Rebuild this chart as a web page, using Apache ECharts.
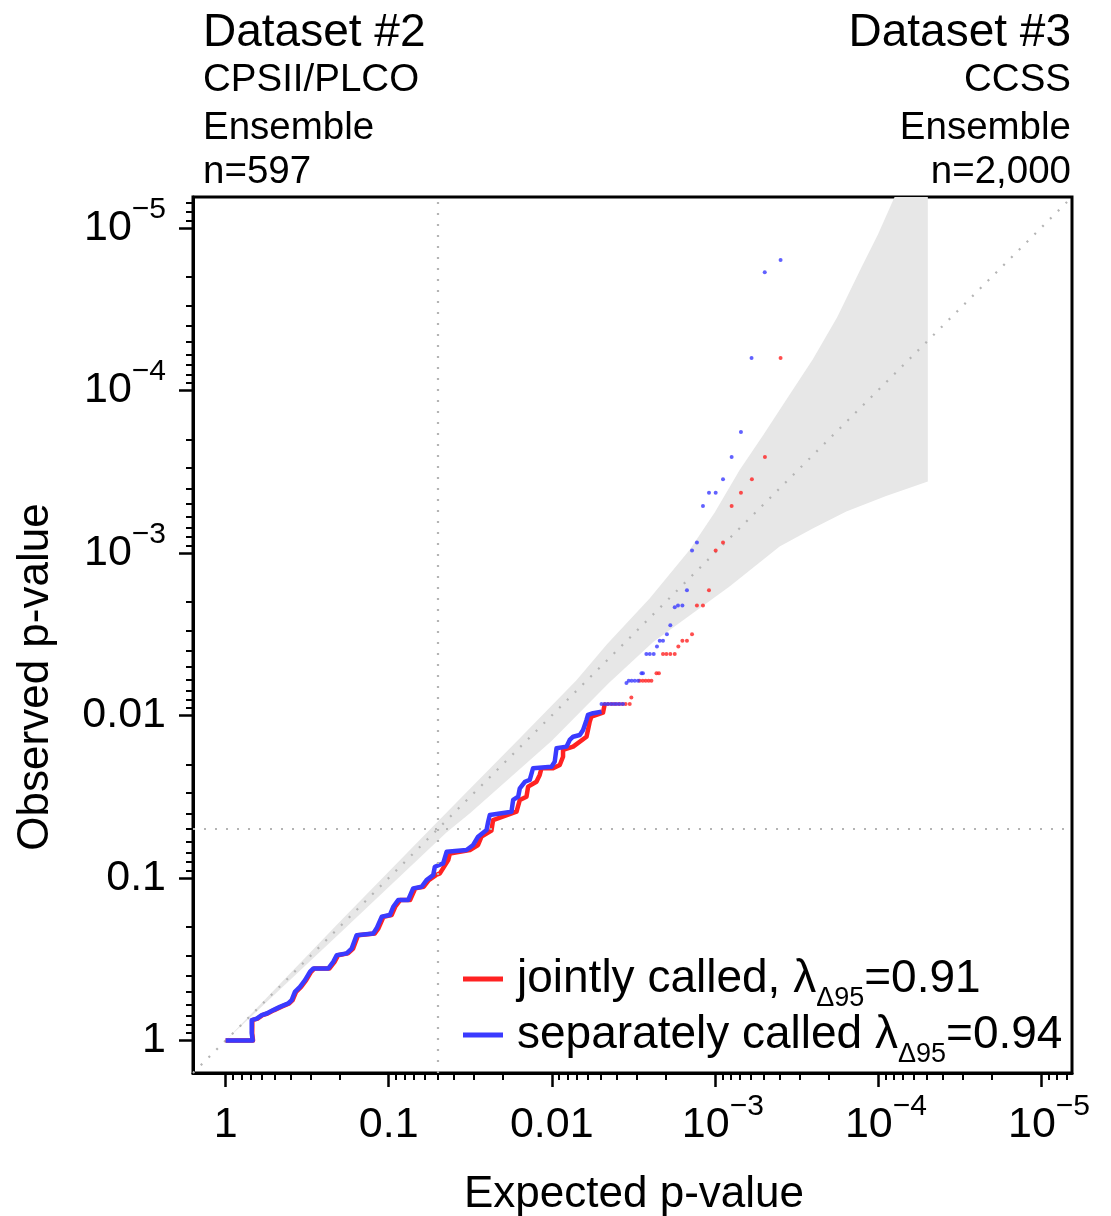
<!DOCTYPE html>
<html>
<head>
<meta charset="utf-8">
<title>QQ plot</title>
<script src="https://cdn.jsdelivr.net/npm/echarts@6/dist/echarts.min.js"></script>
<style>
  html, body { margin: 0; padding: 0; background: #fff; }
  #qq-chart { width: 1111px; height: 1216px; }
</style>
</head>
<body>
<div id="qq-chart"></div>
<script>
    // all values are -log10(p)
    var axisMin = -0.2, axisMax = 5.19;
    var majorTicks = [0, 1, 2, 3, 4, 5];
    var tickLabels = ['1', '0.1', '0.01', '10^\u22123', '10^\u22124', '10^\u22125'];
    var sigLevel = 1.301; // p = 0.05
    var lambdaJoint = '0.91', lambdaSep = '0.94';

    // grey 95% band, upper edge then lower edge
    var bandUpper = [[0, 0], [0.7, 0.73], [1.25, 1.295], [1.5, 1.55], [1.804, 1.86], [2.15, 2.215], [2.34, 2.44],
        [2.6, 2.72], [2.846, 3.02], [3.0, 3.25], [3.152, 3.51], [3.3, 3.73], [3.438, 3.943], [3.6, 4.19],
        [3.75, 4.45], [3.9, 4.76], [4.0, 4.96], [4.102, 5.19], [4.306, 5.19]];
    var bandLower = [[4.306, 3.44], [4.05, 3.35], [3.806, 3.255], [3.6, 3.15], [3.397, 3.039], [3.09, 2.793],
        [2.62, 2.45], [2.35, 2.2], [2.0, 1.845], [1.5, 1.4], [1.354, 1.28], [0.7, 0.66], [0, 0]];

    // jointly called (red): dense staircase + single points
    var jointDense = [[0.000, 0.000], [0.168, 0.000], [0.163, 0.045], [0.164, 0.125], [0.196, 0.135], [0.226, 0.156],
        [0.257, 0.166], [0.298, 0.187], [0.340, 0.207], [0.390, 0.228], [0.411, 0.248], [0.432, 0.299], [0.463, 0.330],
        [0.494, 0.371], [0.524, 0.422], [0.545, 0.443], [0.637, 0.443], [0.668, 0.484], [0.690, 0.525], [0.750, 0.536],
        [0.782, 0.566], [0.812, 0.648], [0.915, 0.659], [0.937, 0.690], [0.968, 0.761], [1.018, 0.772], [1.040, 0.823],
        [1.070, 0.864], [1.131, 0.864], [1.163, 0.936], [1.215, 0.946], [1.246, 0.987], [1.290, 1.018], [1.314, 1.028],
        [1.365, 1.110], [1.375, 1.151], [1.498, 1.172], [1.548, 1.203], [1.569, 1.254], [1.630, 1.291], [1.640, 1.356],
        [1.784, 1.408], [1.804, 1.480], [1.845, 1.500], [1.855, 1.562], [1.906, 1.592], [1.926, 1.634], [1.937, 1.675],
        [2.008, 1.675], [2.049, 1.695], [2.069, 1.746], [2.069, 1.788], [2.131, 1.808], [2.213, 1.869], [2.222, 1.911],
        [2.233, 1.962], [2.243, 1.993], [2.314, 2.017], [2.325, 2.071]];
    var jointPoints = [[2.325, 2.071], [2.346, 2.071], [2.368, 2.071], [2.389, 2.071], [2.411, 2.071], [2.432, 2.071],
        [2.453, 2.071], [2.478, 2.071], [2.488, 2.110], [2.539, 2.214], [2.558, 2.214], [2.576, 2.214], [2.594, 2.214],
        [2.611, 2.214], [2.642, 2.260], [2.657, 2.260], [2.682, 2.378], [2.703, 2.378], [2.727, 2.378], [2.754, 2.378],
        [2.776, 2.424], [2.801, 2.459], [2.829, 2.459], [2.860, 2.500], [2.890, 2.676], [2.927, 2.676], [2.964, 2.771],
        [3.005, 3.015], [3.050, 3.064], [3.103, 3.288], [3.160, 3.370], [3.227, 3.454], [3.307, 3.590], [3.403, 4.199]];

    // separately called (blue)
    var sepDense = [[0.000, 0.000], [0.166, 0.000], [0.160, 0.045], [0.160, 0.125], [0.191, 0.135], [0.221, 0.156],
        [0.252, 0.166], [0.292, 0.187], [0.333, 0.207], [0.384, 0.228], [0.405, 0.248], [0.425, 0.299], [0.456, 0.330],
        [0.487, 0.371], [0.517, 0.422], [0.537, 0.443], [0.629, 0.443], [0.660, 0.484], [0.681, 0.525], [0.742, 0.536],
        [0.773, 0.566], [0.803, 0.648], [0.905, 0.659], [0.926, 0.690], [0.957, 0.761], [1.007, 0.772], [1.028, 0.823],
        [1.058, 0.864], [1.119, 0.864], [1.150, 0.936], [1.202, 0.946], [1.232, 0.987], [1.273, 1.018], [1.283, 1.069],
        [1.334, 1.090], [1.355, 1.161], [1.477, 1.172], [1.518, 1.203], [1.548, 1.254], [1.600, 1.295], [1.610, 1.346],
        [1.620, 1.387], [1.753, 1.408], [1.763, 1.480], [1.794, 1.500], [1.804, 1.552], [1.835, 1.592], [1.865, 1.603],
        [1.885, 1.675], [1.998, 1.685], [2.018, 1.715], [2.029, 1.798], [2.090, 1.808], [2.110, 1.849], [2.131, 1.869],
        [2.172, 1.880], [2.192, 1.911], [2.213, 1.972], [2.222, 2.003], [2.253, 2.014], [2.305, 2.023]];
    var sepPoints = [[2.305, 2.071], [2.325, 2.071], [2.343, 2.071], [2.362, 2.071], [2.380, 2.071], [2.398, 2.071],
        [2.417, 2.071], [2.437, 2.071], [2.458, 2.200], [2.472, 2.214], [2.490, 2.214], [2.509, 2.214], [2.529, 2.214],
        [2.550, 2.260], [2.559, 2.260], [2.580, 2.378], [2.601, 2.378], [2.625, 2.378], [2.645, 2.424], [2.662, 2.459],
        [2.682, 2.459], [2.706, 2.500], [2.727, 2.555], [2.754, 2.666], [2.774, 2.676], [2.801, 2.676], [2.829, 2.771],
        [2.860, 3.015], [2.890, 3.064], [2.927, 3.288], [2.964, 3.370], [3.005, 3.370], [3.050, 3.454], [3.103, 3.590],
        [3.160, 3.744], [3.225, 4.199], [3.306, 4.727], [3.403, 4.803]];

    var FONT = '"Liberation Sans", Arial, Helvetica, sans-serif';
    var RED = '#ff2222', BLUE = '#3a3aff', DOTS = '#b4b4b4';

    // minor ticks at 2..9 x 10^-d
    var minorTicks = [];
    for (var d = 1; d <= 6; d++) {
        for (var k = 2; k <= 9; k++) {
            var v = d - Math.log10(k);
            if (v > axisMin && v < axisMax) minorTicks.push(v);
        }
    }

    function tickText(v) {
        var lab = tickLabels[majorTicks.indexOf(Math.round(v))] || '';
        var parts = lab.split('^');
        if (parts.length < 2) return '{b|' + lab + '}';
        return '{e|' + parts[0] + '}{s|' + parts[1] + '}';
    }

    // superscript is lifted by its bottom padding (tokens are centred in the line)
    var labelRich = {
        b: {fontFamily: FONT, fontSize: 43, lineHeight: 44, color: '#000'},
        e: {fontFamily: FONT, fontSize: 43, lineHeight: 44, color: '#000', padding: [0, 0, 0, 16]},
        s: {fontFamily: FONT, fontSize: 30, lineHeight: 10, color: '#000', padding: [0, 0, 37, 0]}
    };

    function majorAxis(dim) {
        return {
            type: 'value', min: axisMin, max: axisMax,
            position: dim === 'x' ? 'bottom' : 'left',
            splitLine: {show: false},
            axisLine: {show: true, onZero: false, lineStyle: {color: '#000', width: 3}},
            axisTick: {show: true, length: 14, lineStyle: {color: '#000', width: 2.5}, customValues: majorTicks},
            axisLabel: {
                show: true, margin: dim === 'x' ? 30 : 27, customValues: majorTicks,
                formatter: tickText, rich: labelRich
            }
        };
    }

    function minorAxis(dim) {
        return {
            type: 'value', min: axisMin, max: axisMax,
            position: dim === 'x' ? 'bottom' : 'left',
            splitLine: {show: false},
            axisLine: {show: false, onZero: false},
            axisLabel: {show: false},
            axisTick: {show: true, length: 7, lineStyle: {color: '#000', width: 2}, customValues: minorTicks}
        };
    }

    var myChart = echarts.init(document.getElementById('qq-chart'));
    var option = {
        backgroundColor: '#fff',
        animation: false,
        grid: {left: 193, right: 39, top: 197, bottom: 143, show: true, borderColor: '#000', borderWidth: 3},
        xAxis: [majorAxis('x'), minorAxis('x')],
        yAxis: [majorAxis('y'), minorAxis('y')],
        legend: {
            orient: 'vertical', left: 463, top: 956, padding: 0, itemGap: 0,
            itemWidth: 40, itemHeight: 5, icon: 'rect',
            data: ['joint', 'sep'],
            formatter: function (name) {
                var lam = name === 'joint' ? lambdaJoint : lambdaSep;
                var txt = name === 'joint' ? 'jointly called, \u03bb' : 'separately called \u03bb';
                return '{t0|' + txt + '}{s|\u039495}{t|=' + lam + '}';
            },
            textStyle: {
                rich: {
                    t0: {fontFamily: FONT, fontSize: 46, lineHeight: 46, color: '#000', verticalAlign: 'top', padding: [0, 0, 0, 9]},
                    t: {fontFamily: FONT, fontSize: 46, lineHeight: 46, color: '#000', verticalAlign: 'top'},
                    s: {fontFamily: FONT, fontSize: 27, lineHeight: 27, color: '#000', verticalAlign: 'top', padding: [29, 0, 0, 0]}
                }
            }
        },
        graphic: [
            {type: 'text', left: 203, top: 10, style: {text: 'Dataset #2', font: '46px ' + FONT, fill: '#000'}},
            {type: 'text', left: 203, top: 61, style: {text: 'CPSII/PLCO', font: '38.5px ' + FONT, fill: '#000'}},
            {type: 'text', left: 203, top: 109, style: {text: 'Ensemble', font: '38.5px ' + FONT, fill: '#000'}},
            {type: 'text', left: 203, top: 153, style: {text: 'n=597', font: '38.5px ' + FONT, fill: '#000'}},
            {type: 'text', right: 40, top: 10, style: {text: 'Dataset #3', font: '46px ' + FONT, fill: '#000'}},
            {type: 'text', right: 40, top: 61, style: {text: 'CCSS', font: '38.5px ' + FONT, fill: '#000'}},
            {type: 'text', right: 40, top: 109, style: {text: 'Ensemble', font: '38.5px ' + FONT, fill: '#000'}},
            {type: 'text', right: 40, top: 153, style: {text: 'n=2,000', font: '38.5px ' + FONT, fill: '#000'}},
            {type: 'text', x: 634, y: 1195, style: {text: 'Expected p-value', font: '44px ' + FONT, fill: '#000', align: 'center', verticalAlign: 'middle'}},
            {type: 'text', x: 36, y: 677, rotation: Math.PI / 2, style: {text: 'Observed p-value', font: '44px ' + FONT, fill: '#000', align: 'center', verticalAlign: 'middle'}}
        ],
        series: [
            {
                type: 'custom', name: 'band', silent: true, z: 1, clip: true,
                data: [[0, 0]],
                renderItem: function (params, api) {
                    var pts = bandUpper.concat(bandLower).map(function (p) { return api.coord(p); });
                    return {type: 'polygon', shape: {points: pts}, style: {fill: '#e7e7e7'}};
                }
            },
            {
                type: 'line', name: 'ref', silent: true, z: 2, symbol: 'none',
                data: [[axisMin, axisMin], [axisMax, axisMax]],
                lineStyle: {color: DOTS, width: 2.2, type: [2, 9]},
                markLine: {
                    symbol: 'none', silent: true, label: {show: false},
                    lineStyle: {color: DOTS, width: 2.2, type: [2, 9]},
                    data: [{xAxis: sigLevel}, {yAxis: sigLevel}]
                }
            },
            {type: 'line', name: 'joint', z: 3, symbol: 'none', data: jointDense, color: RED,
                lineStyle: {color: RED, width: 4.5, join: 'round'}},
            {type: 'scatter', name: 'joint', z: 3, symbolSize: 4, data: jointPoints, itemStyle: {color: RED}},
            {type: 'line', name: 'sep', z: 4, symbol: 'none', data: sepDense, color: BLUE,
                lineStyle: {color: BLUE, width: 4.5, join: 'round'}},
            {type: 'scatter', name: 'sep', z: 4, symbolSize: 4, data: sepPoints, itemStyle: {color: BLUE}}
        ]
    };
    myChart.setOption(option);
</script>
</body>
</html>
